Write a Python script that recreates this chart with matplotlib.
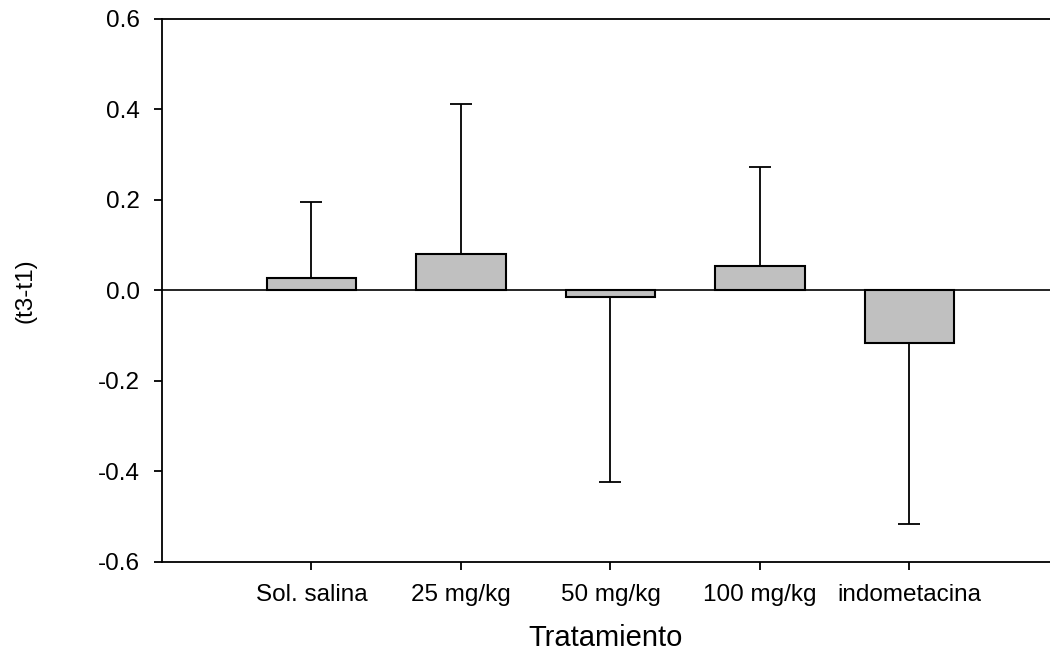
import matplotlib.pyplot as plt
import numpy as np

plt.rcParams['font.family'] = ['Liberation Sans', 'DejaVu Sans']

# Data
tratamientos = ["Sol. salina", "25 mg/kg", "50 mg/kg", "100 mg/kg", "indometacina"]
medias = [0.026, 0.081, -0.014, 0.053, -0.116]
errores = [0.170, 0.330, 0.411, 0.219, 0.401]
yticks = [-0.6, -0.4, -0.2, 0.0, 0.2, 0.4, 0.6]

fig = plt.figure(figsize=(10.5, 6.51), dpi=100)
ax = fig.add_axes([162 / 1050, 89.5 / 651, (1050 - 162) / 1050, 542.5 / 651])

x = np.arange(len(tratamientos))
medias = np.array(medias)
errores = np.array(errores)

# one-sided error bars, pointing away from zero
lower = np.where(medias < 0, errores, 0)
upper = np.where(medias >= 0, errores, 0)

ax.bar(x, medias, width=0.6, color="#c0c0c0", edgecolor="black", linewidth=1.5, zorder=2)
ax.errorbar(x, medias, yerr=[lower, upper], fmt="none", ecolor="black",
            elinewidth=1.3, capsize=8, capthick=1.3, zorder=1)
ax.axhline(0, color="black", linewidth=1.2, zorder=3)

ax.set_xlim(-1.0, 4.94)
ax.set_ylim(-0.6, 0.6)
ax.set_yticks(yticks)
ax.set_yticklabels(["%.1f" % v for v in yticks])
ax.set_xticks(x)
ax.set_xticklabels(tratamientos)

ax.spines["right"].set_visible(False)
for s in ["left", "top", "bottom"]:
    ax.spines[s].set_linewidth(1.3)

ax.tick_params(axis="both", direction="out", length=6, width=1.3, labelsize=17.5)
ax.tick_params(axis="x", pad=10)
ax.tick_params(axis="y", pad=10)

ax.set_xlabel("Tratamiento", fontsize=21, labelpad=13)
ax.set_ylabel("(t3-t1)", fontsize=17.5, labelpad=44)

fig.savefig("out.png", dpi=100)
